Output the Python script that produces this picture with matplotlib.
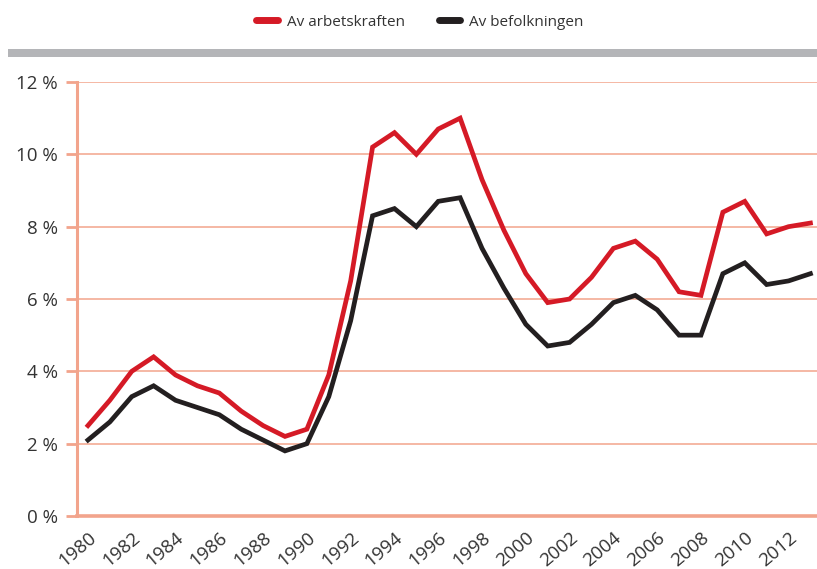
import numpy as np
import matplotlib
matplotlib.use('Agg')
import matplotlib.pyplot as plt
from matplotlib.lines import Line2D
from matplotlib.patches import Rectangle

years = list(range(1980, 2014))
arbetskraften = [2.5, 3.2, 4.0, 4.4, 3.9, 3.6, 3.4, 2.9, 2.5, 2.2,
                 2.4, 3.9, 6.5, 10.2, 10.6, 10.0, 10.7, 11.0, 9.3, 7.9,
                 6.7, 5.9, 6.0, 6.6, 7.4, 7.6, 7.1, 6.2, 6.1, 8.4,
                 8.7, 7.8, 8.0, 8.1]
befolkningen = [2.1, 2.6, 3.3, 3.6, 3.2, 3.0, 2.8, 2.4, 2.1, 1.8,
                2.0, 3.3, 5.4, 8.3, 8.5, 8.0, 8.7, 8.8, 7.4, 6.3,
                5.3, 4.7, 4.8, 5.3, 5.9, 6.1, 5.7, 5.0, 5.0, 6.7,
                7.0, 6.4, 6.5, 6.7]
labels = ["Av arbetskraften", "Av befolkningen"]
yticks = [0, 2, 4, 6, 8, 10, 12]
xticks = list(range(1980, 2013, 2))

red = "#d51a26"
black = "#231f20"
salmon = "#f2a48c"
txt = "#333333"

plt.rcParams['font.family'] = ['Open Sans', 'DejaVu Sans']

fig = plt.figure(figsize=(8.17, 5.69), dpi=100)
ax = fig.add_axes([77/817, 1 - 516/569, 1 - 77/817, (516 - 82)/569])

ax.plot(years, arbetskraften, color=red, lw=3.4, solid_joinstyle='miter', zorder=3)
ax.plot(years, befolkningen, color=black, lw=3.4, solid_joinstyle='miter', zorder=3)

for v in yticks[1:]:
    ax.axhline(v, color=salmon, lw=1.1, zorder=1)

ax.set_xlim(1979.5, 2013.3)
ax.set_ylim(0, 12)
ax.set_yticks(yticks)
ax.set_yticklabels([f"{v} %" for v in yticks], fontsize=13.5, color=txt)
ax.set_xticks(xticks)
ax.set_xticklabels([str(y) for y in xticks], fontsize=13.5, color=txt,
                   rotation=40, ha='right', va='top', rotation_mode='anchor')
ax.tick_params(axis='y', length=8, width=2, color=salmon, pad=6)
ax.tick_params(axis='x', length=0, pad=9)
for s in ['top', 'right']:
    ax.spines[s].set_visible(False)
ax.spines['left'].set_color(salmon)
ax.spines['left'].set_linewidth(2.2)
ax.spines['bottom'].set_color(salmon)
ax.spines['bottom'].set_linewidth(2.6)

# gray band under legend
fig.patches.append(Rectangle((8/817, 1 - 57/569), 1 - 8/817, 8/569,
                             transform=fig.transFigure, color="#b4b5b8", lw=0))

handles = [Line2D([], [], color=red, lw=5, solid_capstyle='round'),
           Line2D([], [], color=black, lw=5, solid_capstyle='round')]
fig.legend(handles, labels, loc='center', bbox_to_anchor=(420/817, 1 - 22/569),
           ncol=2, frameon=False, fontsize=11, handlelength=1.4,
           columnspacing=2.2, handletextpad=0.6, labelcolor=txt)

plt.savefig("out.png", dpi=100)
